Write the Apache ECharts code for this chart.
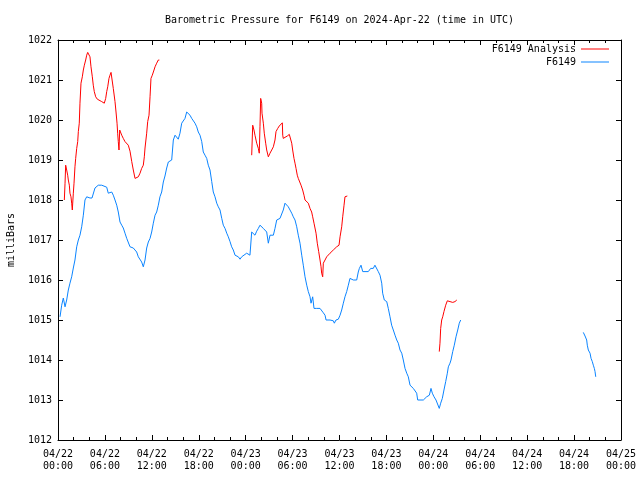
<!DOCTYPE html>
<html>
<head>
<meta charset="utf-8">
<script src="https://cdn.jsdelivr.net/npm/echarts@6/dist/echarts.min.js"></script>
<style>
html,body{margin:0;padding:0;background:#fff;}
#chart{width:640px;height:480px;}
</style>
</head>
<body>
<div id="chart"></div>
<script>
// Hours since 2024-04-22 00:00 UTC; null values mark gaps in the record
const xTickLabels = ['04/22\n00:00','04/22\n06:00','04/22\n12:00','04/22\n18:00','04/23\n00:00','04/23\n06:00','04/23\n12:00','04/23\n18:00','04/24\n00:00','04/24\n06:00','04/24\n12:00','04/24\n18:00','04/25\n00:00'];
const yTicks = [1012,1013,1014,1015,1016,1017,1018,1019,1020,1021,1022];

const analysisHours = [0.81,0.9,0.98,1.11,1.24,1.32,1.45,1.53,1.66,1.75,1.83,1.96,2.05,2.17,2.26,2.39,2.52,2.6,2.72,2.81,2.94,3.11,3.24,3.37,3.54,3.67,3.8,3.96,4.09,4.22,4.39,4.51,4.64,4.82,5.03,5.28,5.59,5.92,6.1,6.23,6.36,6.52,6.65,6.78,6.94,7.07,7.29,7.42,7.55,7.63,7.71,7.8,7.89,8.02,8.15,8.35,8.57,8.79,8.99,9.21,9.43,9.63,9.85,10.06,10.27,10.49,10.7,10.91,11.04,11.13,11.34,11.47,11.64,11.77,11.89,12.06,12.28,12.41,12.62,12.83,12.96,
  18,
  24.77,24.9,25.06,25.19,25.41,25.62,25.74,25.83,25.92,26.05,26.09,26.26,26.38,26.56,26.69,26.9,27.11,27.33,27.54,27.75,27.88,28.1,28.3,28.48,28.69,28.74,28.81,29.03,29.32,29.58,29.76,29.89,30.01,30.18,30.31,30.44,30.6,30.73,30.95,31.08,31.29,31.46,31.59,31.81,32.01,32.23,32.44,32.57,32.74,33.0,33.16,33.34,33.51,33.64,33.72,33.85,33.93,34.15,34.36,34.79,35.21,35.64,35.94,36.07,36.28,36.41,36.58,36.7,37.0,
  42,
  48.76,48.85,48.94,49.07,49.2,49.36,49.58,49.79,50.13,50.48,50.77,51.0];
const analysisValues = [1018.0,1018.42,1018.87,1018.75,1018.62,1018.5,1018.37,1018.17,1018.08,1017.92,1017.75,1018.17,1018.42,1018.83,1019.04,1019.29,1019.46,1019.71,1019.92,1020.42,1020.92,1021.08,1021.25,1021.37,1021.5,1021.62,1021.69,1021.69,1021.58,1021.33,1021.08,1020.87,1020.71,1020.58,1020.52,1020.5,1020.46,1020.42,1020.54,1020.71,1020.83,1021.04,1021.12,1021.19,1021.17,1020.79,1020.46,1020.2,1019.92,1019.67,1019.46,1019.25,1019.75,1019.71,1019.62,1019.54,1019.46,1019.42,1019.37,1019.22,1018.96,1018.75,1018.54,1018.52,1018.58,1018.67,1018.79,1018.87,1019.08,1019.3,1019.67,1019.96,1020.12,1020.58,1021.04,1021.12,1021.25,1021.33,1021.42,1021.5,1021.5,
  null,
  1019.12,1019.87,1019.75,1019.62,1019.42,1019.29,1019.17,1019.83,1020.54,1020.42,1020.17,1019.92,1019.67,1019.42,1019.25,1019.08,1019.17,1019.25,1019.33,1019.5,1019.71,1019.79,1019.85,1019.9,1019.93,1019.62,1019.54,1019.58,1019.6,1019.64,1019.62,1019.42,1019.25,1019.04,1018.92,1018.79,1018.62,1018.54,1018.5,1018.37,1018.25,1018.12,1018.0,1017.96,1017.92,1017.79,1017.7,1017.58,1017.42,1017.17,1016.92,1016.71,1016.5,1016.33,1016.17,1016.08,1016.42,1016.5,1016.58,1016.67,1016.75,1016.83,1016.87,1017.08,1017.33,1017.58,1017.87,1018.08,1018.1,
  null,
  1014.21,1014.42,1014.79,1015.0,1015.08,1015.21,1015.37,1015.48,1015.46,1015.44,1015.46,1015.5];

const stationHours = [0.26,0.47,0.68,0.9,1.11,1.32,1.53,1.75,1.96,2.17,2.39,2.6,2.81,3.03,3.24,3.45,3.67,3.88,4.09,4.35,4.73,5.15,5.37,5.59,5.79,6.23,6.43,6.65,6.87,7.07,7.29,7.51,7.71,7.93,8.15,8.35,8.57,8.79,8.99,9.21,9.43,9.63,9.85,10.06,10.27,10.49,10.7,10.91,11.13,11.34,11.55,11.77,11.98,12.19,12.41,12.62,12.83,13.04,13.26,13.47,13.68,13.9,14.11,14.32,14.54,14.75,14.97,15.18,15.38,15.6,15.82,16.02,16.24,16.46,16.66,16.88,17.1,17.3,17.52,17.74,17.94,18.16,18.38,18.58,18.8,19.02,19.22,19.44,19.66,19.86,20.08,20.3,20.5,20.72,20.94,21.14,21.36,21.58,21.78,22.0,22.21,22.42,22.64,22.85,23.06,23.28,23.49,23.7,24.13,24.34,24.55,24.77,24.98,25.19,25.41,25.62,25.83,26.05,26.26,26.47,26.69,26.9,27.11,27.54,27.75,27.97,28.17,28.39,28.61,28.81,29.03,29.24,29.45,29.67,29.89,30.09,30.31,30.53,30.73,30.95,31.17,31.37,31.59,31.81,32.01,32.23,32.36,32.57,32.74,33.09,33.51,33.73,33.93,34.15,34.28,34.79,35.21,35.34,35.55,35.85,36.07,36.28,36.49,36.7,36.92,37.13,37.34,37.56,37.77,38.2,38.4,38.54,38.75,38.97,39.68,39.99,40.32,40.53,40.76,40.96,41.18,41.4,41.52,41.73,42.04,42.24,42.46,42.67,42.88,43.1,43.32,43.52,43.74,43.96,44.16,44.38,44.6,44.8,45.02,45.23,45.44,45.66,45.87,46.0,46.72,46.94,47.15,47.49,47.7,47.87,48.09,48.34,48.56,48.76,48.94,49.15,49.36,49.58,49.79,49.92,50.13,50.26,50.48,50.68,50.9,51.12,51.32,51.5,
  60,
  67.18,67.4,67.61,67.69,67.82,68.04,68.17,68.33,68.46,68.59,68.68,68.77];
const stationValues = [1015.08,1015.37,1015.55,1015.33,1015.5,1015.75,1015.92,1016.08,1016.3,1016.5,1016.83,1017.0,1017.12,1017.33,1017.62,1018.0,1018.08,1018.12,1018.05,1018.05,1018.3,1018.37,1018.42,1018.37,1018.33,1018.32,1018.17,1018.2,1018.2,1018.12,1018.0,1017.87,1017.7,1017.45,1017.37,1017.3,1017.17,1017.04,1017.0,1016.83,1016.87,1016.8,1016.82,1016.7,1016.58,1016.54,1016.45,1016.33,1016.5,1016.8,1016.95,1017.04,1017.2,1017.42,1017.62,1017.7,1017.87,1018.08,1018.2,1018.45,1018.6,1018.8,1018.95,1019.0,1019.0,1019.5,1019.62,1019.58,1019.52,1019.67,1019.92,1019.96,1020.04,1020.2,1020.2,1020.12,1020.04,1020.0,1019.92,1019.83,1019.7,1019.62,1019.46,1019.2,1019.12,1019.04,1018.87,1018.75,1018.46,1018.2,1018.08,1017.92,1017.83,1017.75,1017.54,1017.37,1017.29,1017.17,1017.08,1016.96,1016.83,1016.75,1016.62,1016.6,1016.58,1016.52,1016.58,1016.6,1016.67,1016.71,1016.62,1017.2,1017.17,1017.12,1017.22,1017.29,1017.37,1017.42,1017.29,1017.32,1017.2,1016.92,1017.12,1017.12,1017.29,1017.5,1017.46,1017.54,1017.58,1017.75,1017.92,1017.87,1017.83,1017.75,1017.67,1017.58,1017.5,1017.33,1017.12,1016.92,1016.62,1016.37,1016.08,1015.87,1015.71,1015.58,1015.42,1015.58,1015.29,1015.29,1015.29,1015.25,1015.18,1015.12,1015.0,1015.0,1014.98,1014.92,1015.0,1015.02,1015.12,1015.25,1015.42,1015.58,1015.71,1015.87,1016.04,1016.08,1016.0,1016.0,1016.2,1016.29,1016.37,1016.21,1016.21,1016.29,1016.29,1016.37,1016.33,1016.21,1016.12,1015.92,1015.67,1015.5,1015.46,1015.29,1015.08,1014.87,1014.75,1014.62,1014.5,1014.42,1014.25,1014.17,1014.0,1013.79,1013.67,1013.58,1013.37,1013.33,1013.29,1013.25,1013.17,1013.0,1013.0,1013.0,1013.08,1013.12,1013.29,1013.17,1013.08,1013.0,1012.96,1012.79,1012.92,1013.04,1013.25,1013.46,1013.67,1013.83,1013.92,1014.0,1014.21,1014.37,1014.58,1014.75,1014.92,1015.0,
  null,
  1014.69,1014.6,1014.5,1014.37,1014.25,1014.17,1014.04,1013.96,1013.87,1013.79,1013.71,1013.58];

const FONT = 'DejaVu Sans Mono';
function pairs(h, v){ return h.map((x,i)=>[x, v[i]]); }

const chart = echarts.init(document.getElementById('chart'), null, {renderer:'canvas'});
const xCommon = {
  type:'value', min:0, max:72, interval:6,
  axisLine:{show:true, onZero:false, lineStyle:{color:'#000', width:1}},
  axisTick:{show:true, inside:true, length:5, lineStyle:{color:'#000'}},
  minorTick:{show:true, splitNumber:3, length:3, lineStyle:{color:'#000'}},
  splitLine:{show:false}
};
const yCommon = {
  type:'value', min:1012, max:1022, interval:1,
  axisLine:{show:true, onZero:false, lineStyle:{color:'#000', width:1}},
  axisTick:{show:true, inside:true, length:5, lineStyle:{color:'#000'}},
  splitLine:{show:false}
};
chart.setOption({
  animation:false,
  backgroundColor:'#fff',
  textStyle:{fontFamily:FONT},
  title:{
    text:'Barometric Pressure for F6149 on 2024-Apr-22 (time in UTC)',
    left:339.5, textAlign:'center', top:14, padding:0,
    textStyle:{fontFamily:FONT, fontSize:10, fontWeight:'normal', color:'#000', lineHeight:12}
  },
  legend:{
    orient:'vertical', align:'right', right:31, top:43, padding:0, itemGap:1,
    itemWidth:28, itemHeight:1, icon:'rect',
    textStyle:{fontFamily:FONT, fontSize:10, color:'#000', lineHeight:12},
    data:['F6149 Analysis','F6149']
  },
  grid:{left:58, right:19, top:40, bottom:40, containLabel:false, outerBoundsMode:'none'},
  xAxis:[
    Object.assign({}, xCommon, {position:'bottom',
      axisLabel:{show:true, margin:8, fontFamily:FONT, fontSize:10, color:'#000', lineHeight:12,
        formatter:(v)=>{ const i=Math.round(v/6); return xTickLabels[i] || ''; }}}),
    Object.assign({}, xCommon, {position:'top', axisLabel:{show:false}})
  ],
  yAxis:[
    Object.assign({}, yCommon, {position:'left',
      name:'milliBars', nameLocation:'middle', nameGap:42, nameRotate:90,
      nameTextStyle:{fontFamily:FONT, fontSize:10, color:'#000'},
      axisLabel:{show:true, margin:6, fontFamily:FONT, fontSize:10, color:'#000',
        formatter:(v)=> yTicks.indexOf(v) >= 0 ? String(v) : ''}}),
    Object.assign({}, yCommon, {position:'right', axisLabel:{show:false}})
  ],
  series:[
    {name:'F6149 Analysis', type:'line', xAxisIndex:0, yAxisIndex:0, symbol:'none', showSymbol:false,
      connectNulls:false, color:'#ff0000', lineStyle:{color:'#ff0000', width:1}, z:3,
      data:pairs(analysisHours, analysisValues)},
    {name:'F6149', type:'line', xAxisIndex:0, yAxisIndex:0, symbol:'none', showSymbol:false,
      connectNulls:false, color:'#0a84ff', lineStyle:{color:'#0a84ff', width:1}, z:2,
      data:pairs(stationHours, stationValues)}
  ]
});
</script>
</body>
</html>
